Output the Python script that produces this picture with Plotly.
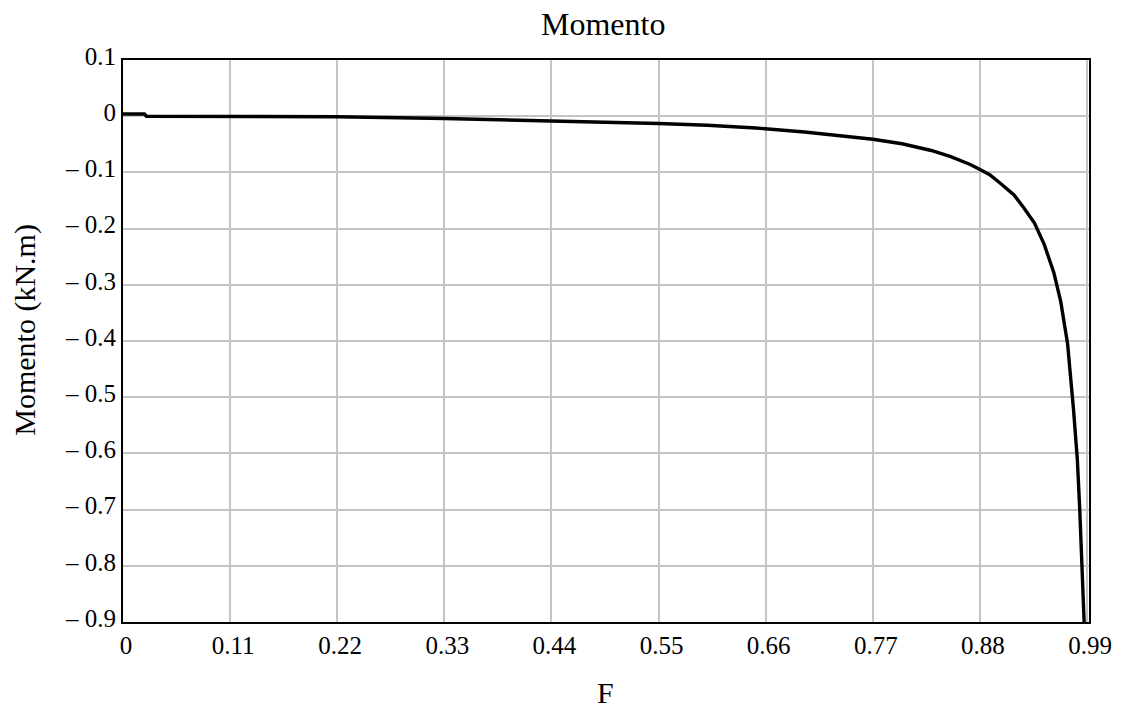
import plotly.graph_objects as go

# Data (F vs Momento)
F = [0.0, 0.022, 0.024, 0.10, 0.22, 0.33, 0.44, 0.50, 0.55, 0.60, 0.65, 0.70,
     0.74, 0.77, 0.80, 0.83, 0.85, 0.87, 0.88, 0.89, 0.90, 0.915, 0.925,
     0.936, 0.946, 0.956, 0.963, 0.970, 0.976, 0.980, 0.9825, 0.985, 0.987]
M = [0.004, 0.004, 0.0, 0.0, -0.001, -0.004, -0.008, -0.011, -0.013, -0.016,
     -0.021, -0.028, -0.035, -0.041, -0.049, -0.061, -0.072, -0.086, -0.095,
     -0.104, -0.118, -0.140, -0.163, -0.19, -0.228, -0.279, -0.33, -0.405,
     -0.52, -0.61, -0.70, -0.80, -0.90]

x_ticks = [0, 0.11, 0.22, 0.33, 0.44, 0.55, 0.66, 0.77, 0.88, 0.99]
x_ticktext = ["0", "0.11", "0.22", "0.33", "0.44", "0.55", "0.66", "0.77", "0.88", "0.99"]
y_ticks = [0.1, 0, -0.1, -0.2, -0.3, -0.4, -0.5, -0.6, -0.7, -0.8, -0.9]
y_ticktext = ["0.1", "0", "\u2013 0.1", "\u2013 0.2", "\u2013 0.3", "\u2013 0.4",
              "\u2013 0.5", "\u2013 0.6", "\u2013 0.7", "\u2013 0.8", "\u2013 0.9"]

title_text = "Momento"
x_title = "F"
y_title = "Momento (kN.m)"

FONT = "Liberation Serif, Times New Roman, serif"

fig = go.Figure()
fig.add_trace(go.Scatter(x=F, y=M, mode="lines",
                         line=dict(color="black", width=3.4),
                         showlegend=False, hoverinfo="skip", cliponaxis=True))

fig.update_layout(
    width=1124, height=710,
    margin=dict(l=123, r=29, t=60, b=88),
    paper_bgcolor="white", plot_bgcolor="white",
    font=dict(family=FONT, color="black"),
    showlegend=False,
    annotations=[
        dict(text=title_text, xref="paper", yref="paper", x=0.497, y=1,
             yshift=36, xanchor="center", yanchor="middle", showarrow=False,
             font=dict(family=FONT, size=32, color="black")),
        dict(text=x_title, xref="paper", yref="paper", x=0.499, y=0,
             yshift=-70, xanchor="center", yanchor="middle", showarrow=False,
             font=dict(family=FONT, size=30, color="black")),
        dict(text=y_title, xref="paper", yref="paper", x=0, y=0.52,
             xshift=-98, xanchor="center", yanchor="middle", showarrow=False,
             textangle=-90,
             font=dict(family=FONT, size=30, color="black")),
    ],
)

fig.update_xaxes(
    range=[0, 0.992], tickmode="array", tickvals=x_ticks, ticktext=x_ticktext,
    showgrid=True, gridcolor="#c4c4c4", gridwidth=1.6,
    showline=True, linecolor="black", linewidth=2, mirror=True,
    ticks="", zeroline=False, ticklabelshift=3,
    tickfont=dict(family=FONT, size=25, color="black"),
)
fig.update_yaxes(
    range=[-0.9, 0.1], tickmode="array", tickvals=y_ticks, ticktext=y_ticktext,
    showgrid=True, gridcolor="#c4c4c4", gridwidth=1.6,
    showline=True, linecolor="black", linewidth=2, mirror=True,
    ticks="", zeroline=False, ticklabelshift=-4,
    tickfont=dict(family=FONT, size=25, color="black"),
)

fig.write_html("out.html")
